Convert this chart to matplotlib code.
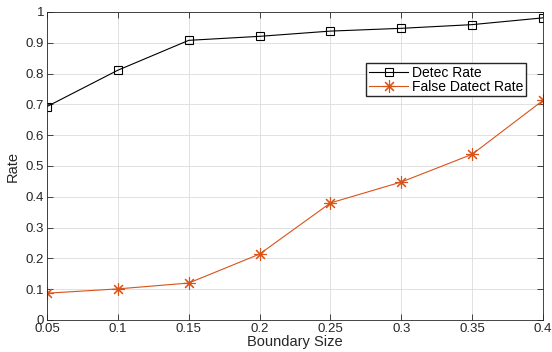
import matplotlib
matplotlib.use("Agg")
import matplotlib.pyplot as plt
import numpy as np

# -----------------------------------
# DATA
# -----------------------------------

boundary_size = [0.05, 0.1, 0.15, 0.2, 0.25, 0.3, 0.35, 0.4]
detect_rate = [0.693, 0.811, 0.908, 0.921, 0.938, 0.947, 0.959, 0.981]
false_detect_rate = [0.087, 0.101, 0.120, 0.214, 0.380, 0.448, 0.538, 0.713]

xtick_labels = ["0.05", "0.1", "0.15", "0.2", "0.25", "0.3", "0.35", "0.4"]
ytick_values = np.arange(0, 1.01, 0.1)
ytick_labels = ["0", "0.1", "0.2", "0.3", "0.4", "0.5", "0.6", "0.7", "0.8", "0.9", "1"]

plt.rcParams["font.family"] = ["Liberation Sans", "DejaVu Sans"]

# -----------------------------------
# FIGURE
# -----------------------------------

fig = plt.figure(figsize=(5.52, 3.52), dpi=100)
ax = fig.add_axes([47 / 552, 1 - 320 / 352, 496 / 552, 308 / 352])

ax.plot(
    boundary_size,
    detect_rate,
    color="black",
    linewidth=0.8,
    marker="s",
    markersize=6,
    markerfacecolor="none",
    markeredgewidth=0.8,
    label="Detec Rate"
)

# asterisk marker, like the + and x overlaid
ax.plot(
    boundary_size,
    false_detect_rate,
    color="#D95319",
    linewidth=0.8,
    marker=(8, 2, 0),
    markersize=9,
    markeredgewidth=0.8,
    label="False Datect Rate"
)

# -----------------------------------
# AXES
# -----------------------------------

ax.set_xlim(0.05, 0.4)
ax.set_ylim(0, 1)

ax.set_xticks(boundary_size)
ax.set_xticklabels(xtick_labels)
ax.set_yticks(ytick_values)
ax.set_yticklabels(ytick_labels)

ax.tick_params(
    direction="in",
    top=True,
    right=True,
    labelsize=9.5,
    colors="#262626",
    length=4,
    width=0.6,
    pad=2
)

for spine in ax.spines.values():
    spine.set_color("#262626")
    spine.set_linewidth(0.6)

ax.grid(True, color="#dcdcdc", linewidth=0.6)
ax.set_axisbelow(True)

ax.set_xlabel("Boundary Size", fontsize=10.5, labelpad=0, color="#262626")
ax.set_ylabel("Rate", fontsize=10.5, labelpad=4, color="#262626")

# -----------------------------------
# LEGEND
# -----------------------------------

ax.legend(
    loc="upper left",
    bbox_to_anchor=(0.644, 0.835),
    fontsize=10,
    frameon=True,
    fancybox=False,
    edgecolor="#262626",
    framealpha=1,
    borderpad=0.2,
    labelspacing=0.0,
    handlelength=2.8,
    handletextpad=0.3,
    borderaxespad=0
)

fig.savefig("out.png", dpi=100)
